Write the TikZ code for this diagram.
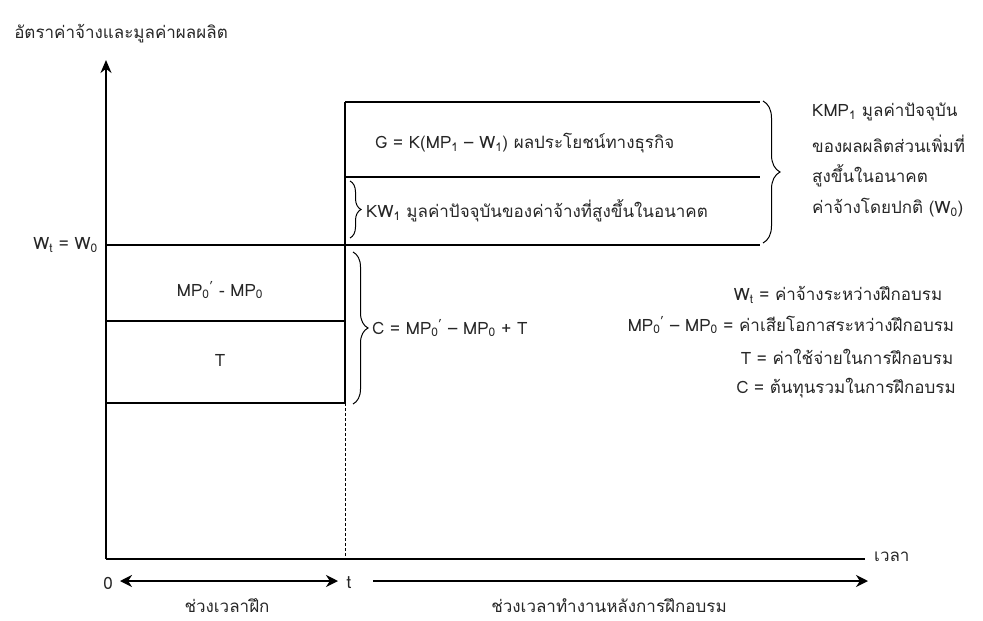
\documentclass[tikz,border=0pt]{standalone}
\usepackage{fontspec}
\setmainfont[Script=Thai]{Loma}
\usetikzlibrary{decorations.pathreplacing,arrows.meta}
\newcommand{\sbs}[1]{\textsubscript{#1}}
\newcommand{\prm}{\textsuperscript{'}}
\tikzset{
  axis/.style={line width=2pt},
  bar/.style={line width=2pt},
  lbl/.style={inner sep=0pt, text=black!85, font=\fontsize{17}{20}\selectfont},
  brc/.style={line width=1pt, decorate, decoration={brace, amplitude=#1}},
  tarrow/.style={line width=2.6pt, -{Stealth[length=12pt,width=12pt]}},
  tarrow2/.style={line width=2.6pt, {Stealth[length=12pt,width=12pt]}-{Stealth[length=12pt,width=12pt]}},
}
\begin{document}
\begin{tikzpicture}[x=1pt,y=-1pt]
\useasboundingbox (0,0) rectangle (983,621);
% key points
\coordinate (O) at (106,559);
\coordinate (Ytop) at (106,60);
\coordinate (Xend) at (865,559);
\coordinate (Ttop) at (345,102);
\coordinate (Tlow) at (345,403);
\coordinate (Tbase) at (345,559);
\coordinate (R1) at (760,102);
\coordinate (M1) at (345,177);
\coordinate (R2) at (760,177);
\coordinate (W0l) at (106,245);
\coordinate (W0r) at (760,245);
\coordinate (L1l) at (106,321);
\coordinate (L1r) at (345,321);
\coordinate (L2l) at (106,403);
% axes
\draw[axis,-{Stealth[length=13pt,width=11pt]}] (O) -- (Ytop);
\draw[axis] (O) -- (Xend);
% bars
\draw[bar] (Ttop) -- (R1);
\draw[bar] (M1) -- (R2);
\draw[bar] (W0l) -- (W0r);
\draw[bar] (L1l) -- (L1r);
\draw[bar] (L2l) -- (Tlow);
\draw[bar] (Ttop) -- (Tlow);
\draw[line width=0.9pt, dash pattern=on 3pt off 2pt] (Tlow) -- (Tbase);
% braces
\coordinate (B1a) at (763,101);
\coordinate (B1b) at (763,243);
\draw[brc=17pt] (B1a) -- (B1b);
\coordinate (B2a) at (350,181);
\coordinate (B2b) at (350,238);
\draw[brc=11pt] (B2a) -- (B2b);
\coordinate (B3a) at (353,252);
\coordinate (B3b) at (353,404);
\draw[brc=15pt] (B3a) -- (B3b);
% texts
\node[lbl] (title) at (121,34) {อัตราค่าจ้างและมูลค่าผลผลิต};
\node[lbl, anchor=east] (wt) at (98,245) {W\sbs{t} = W\sbs{0}};
\node[lbl] (mpbox) at (220,290) {MP\sbs{0}\prm\ - MP\sbs{0}};
\node[lbl] (tbox) at (220,360) {T};
\node[lbl, anchor=west] (cbox) at (372,328) {C = MP\sbs{0}\prm\ – MP\sbs{0} + T};
\node[lbl, anchor=west] (gbox) at (375,143) {G = K(MP\sbs{1} – W\sbs{1}) ผลประโยชน์ทางธุรกิจ};
\node[lbl, anchor=west] (kwbox) at (366,211) {KW\sbs{1} มูลค่าปัจจุบันของค่าจ้างที่สูงขึ้นในอนาคต};
\node[lbl, anchor=west] (r1) at (812,112) {KMP\sbs{1} มูลค่าปัจจุบัน};
\node[lbl, anchor=west] (r2) at (812,144) {ของผลผลิตส่วนเพิ่มที่};
\node[lbl, anchor=west] (r3) at (812,176) {สูงขึ้นในอนาคต};
\node[lbl, anchor=west] (r4) at (812,208) {ค่าจ้างโดยปกติ (W\sbs{0})};
\node[lbl] (g1) at (838,295) {W\sbs{t} = ค่าจ้างระหว่างฝึกอบรม};
\node[lbl] (g2) at (791,325) {MP\sbs{0}\prm\ – MP\sbs{0} = ค่าเสียโอกาสระหว่างฝึกอบรม};
\node[lbl] (g3) at (847,357) {T = ค่าใช้จ่ายในการฝึกอบรม};
\node[lbl] (g4) at (846,388) {C = ต้นทุนรวมในการฝึกอบรม};
\node[lbl, anchor=west] (time) at (874,557) {เวลา};
\node[lbl] (zero) at (108,583) {0};
\node[lbl] (tt) at (349,583) {t};
\coordinate (A1) at (120,581);
\coordinate (A2) at (338,581);
\coordinate (A3) at (373,581);
\coordinate (A4) at (868,581);
\draw[tarrow2] (A1) -- (A2);
\draw[tarrow] (A3) -- (A4);
\node[lbl] (p1) at (227,606) {ช่วงเวลาฝึก};
\node[lbl] (p2) at (609,606) {ช่วงเวลาทำงานหลังการฝึกอบรม};
\end{tikzpicture}
\end{document}
